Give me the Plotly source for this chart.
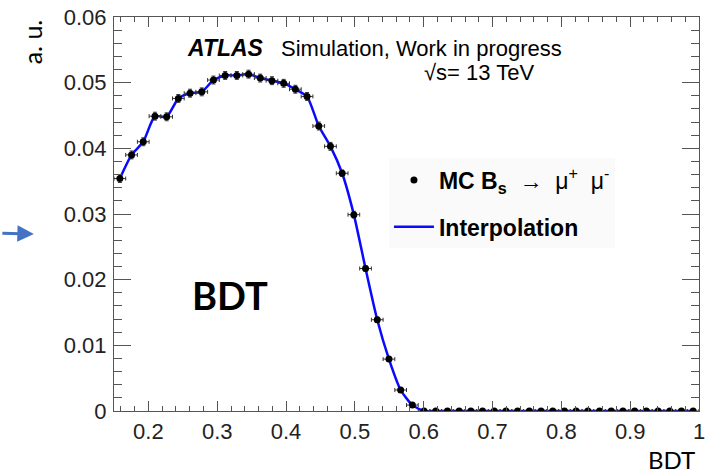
import plotly.graph_objects as go

# BDT bin centres (50 bins of width 0.017 between 0.15 and 1.0)
bdt = [0.1585, 0.1755, 0.1925, 0.2095, 0.2265, 0.2435, 0.2605, 0.2775, 0.2945, 0.3115,
       0.3285, 0.3455, 0.3625, 0.3795, 0.3965, 0.4135, 0.4305, 0.4475, 0.4645, 0.4815,
       0.4985, 0.5155, 0.5325, 0.5495, 0.5665, 0.5835, 0.6005, 0.6175, 0.6345, 0.6515,
       0.6685, 0.6855, 0.7025, 0.7195, 0.7365, 0.7535, 0.7705, 0.7875, 0.8045, 0.8215,
       0.8385, 0.8555, 0.8725, 0.8895, 0.9065, 0.9235, 0.9405, 0.9575, 0.9745, 0.9915]

# normalised MC Bs -> mu mu yield per bin (a. u.)
mc_yield = [0.0354, 0.0390, 0.0410, 0.0449, 0.0448, 0.0476, 0.0484, 0.0486, 0.0504, 0.0511,
            0.0511, 0.0513, 0.0507, 0.0503, 0.0499, 0.0490, 0.0479, 0.0434, 0.0403, 0.0362,
            0.0299, 0.0217, 0.0139, 0.0079, 0.0032, 0.0009, 0.0, 0.0, 0.0, 0.0,
            0.0, 0.0, 0.0, 0.0, 0.0, 0.0, 0.0, 0.0, 0.0, 0.0,
            0.0, 0.0, 0.0, 0.0, 0.0, 0.0, 0.0, 0.0, 0.0, 0.0]

# statistical uncertainty per bin
mc_err = [0.0006, 0.0006, 0.0006, 0.0006, 0.0006, 0.0006, 0.0006, 0.0006, 0.0006, 0.0006,
          0.0006, 0.0006, 0.0006, 0.0006, 0.0006, 0.0006, 0.0006, 0.0006, 0.0006, 0.0005,
          0.0005, 0.0004, 0.0004, 0.0003, 0.0002, 0.0001, 0.0, 0.0, 0.0, 0.0,
          0.0, 0.0, 0.0, 0.0, 0.0, 0.0, 0.0, 0.0, 0.0, 0.0,
          0.0, 0.0, 0.0, 0.0, 0.0, 0.0, 0.0, 0.0, 0.0, 0.0]

half_bin = 0.0085

x_ticks = [0.2, 0.3, 0.4, 0.5, 0.6, 0.7, 0.8, 0.9, 1.0]
x_labels = ["0.2", "0.3", "0.4", "0.5", "0.6", "0.7", "0.8", "0.9", "1"]
y_ticks = [0, 0.01, 0.02, 0.03, 0.04, 0.05, 0.06]
y_labels = ["0", "0.01", "0.02", "0.03", "0.04", "0.05", "0.06"]

ROOT_FONT = "Liberation Sans, Arial, Helvetica, sans-serif"
SLIDE_FONT = "Lato, Open Sans, sans-serif"

fig = go.Figure()

# smooth interpolation through the MC points
fig.add_trace(go.Scatter(
    x=bdt, y=mc_yield, mode="lines",
    line=dict(color="#0a0aff", width=2.5, shape="spline", smoothing=0.6),
    name="<b>Interpolation</b>", legendgroup="interp", legendrank=2,
))

# MC points with bin-width and statistical error bars
fig.add_trace(go.Scatter(
    x=bdt, y=mc_yield, mode="markers",
    marker=dict(color="black", size=7),
    error_x=dict(type="constant", value=half_bin, color="#333333", thickness=1, width=2),
    error_y=dict(type="data", array=mc_err, color="#333333", thickness=1, width=2),
    name="<b>MC B<sub>s</sub></b>  →  μ<sup>+</sup>  μ<sup>-</sup>",
    legendgroup="mc", legendrank=1,
))

axis_common = dict(
    showline=True, linecolor="#555555", linewidth=1, mirror="allticks",
    ticks="inside", tickcolor="#555555", tickwidth=1,
    showgrid=False, zeroline=False,
    tickfont=dict(family=ROOT_FONT, size=22, color="#222222"),
    ticklabeloverflow="allow",
)

fig.update_xaxes(
    range=[0.15, 1.0], tickvals=x_ticks, ticktext=x_labels, ticklen=10,
    minor=dict(ticks="inside", dtick=0.02, tick0=0.2, ticklen=5,
               tickcolor="#555555", tickwidth=1, showgrid=False),
    ticklabelstandoff=1,
    **axis_common,
)
fig.update_yaxes(
    range=[0, 0.06], tickvals=y_ticks, ticktext=y_labels, ticklen=17,
    minor=dict(ticks="inside", dtick=0.002, tick0=0, ticklen=8,
               tickcolor="#555555", tickwidth=1, showgrid=False),
    ticklabelstandoff=2,
    **axis_common,
)

annotations = [
    dict(text="<b><i>ATLAS</i></b>", x=0.1218, y=0.921, xanchor="left", yanchor="middle",
         font=dict(family=ROOT_FONT, size=23, color="black")),
    dict(text="Simulation, Work in progress", x=0.2826, y=0.921, xanchor="left", yanchor="middle",
         font=dict(family=ROOT_FONT, size=22, color="black")),
    dict(text="√s= 13 TeV", x=0.526, y=0.859, xanchor="left", yanchor="middle",
         font=dict(family=ROOT_FONT, size=22, color="black")),
    dict(text="<b>BDT</b>", x=0.198, y=0.2955, xanchor="center", yanchor="middle",
         font=dict(family=SLIDE_FONT, size=38, color="black")),
    dict(text="BDT", x=0.953, y=-0.124, xanchor="center", yanchor="middle",
         font=dict(family=SLIDE_FONT, size=24, color="black")),
    dict(text="a. u.", x=-0.141, y=0.937, xanchor="center", yanchor="middle", textangle=-90,
         font=dict(family=SLIDE_FONT, size=25, color="black")),
    # pointer arrow on the left
    dict(text="", x=-0.137, y=0.449, ax=-33, ay=-1, axref="pixel", ayref="pixel",
         showarrow=True, arrowhead=2, arrowsize=1.1, arrowwidth=3, arrowcolor="#4472c4"),
]
for a in annotations:
    a.setdefault("xref", "paper")
    a.setdefault("yref", "paper")
    a.setdefault("showarrow", False)

fig.update_layout(
    width=710, height=475,
    margin=dict(l=114, r=5, t=15, b=64),
    paper_bgcolor="white", plot_bgcolor="white",
    annotations=annotations,
    showlegend=True,
    legend=dict(
        x=0.470, y=0.641, xanchor="left", yanchor="top",
        bgcolor="#fafafa", borderwidth=0,
        font=dict(family=ROOT_FONT, size=23, color="black"),
        tracegroupgap=14, traceorder="grouped", itemwidth=40,
    ),
)

fig.write_html("out.html")
